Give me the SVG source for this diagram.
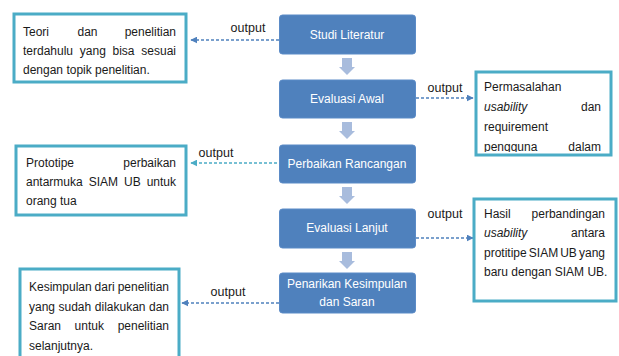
<svg xmlns="http://www.w3.org/2000/svg" width="619" height="356" viewBox="0 0 619 356">
<style>
.proc{fill:#4f81bd;stroke:#5b8bc7;stroke-width:1}
.pt{font-family:"Liberation Sans",Arial,sans-serif;font-size:12px;fill:#ffffff;text-anchor:middle}
.ob{fill:#ffffff;stroke:#4bacc6;stroke-width:3}
.t{font-family:"Liberation Sans",Arial,sans-serif;font-size:12px;fill:#1a1a1a}
.e{text-anchor:end}
.i{font-style:italic}
.lbl{font-family:"Liberation Sans",Arial,sans-serif;font-size:12.5px;fill:#1a1a1a;text-anchor:middle}
.dash{fill:none;stroke:#4f81bd;stroke-width:1.3;stroke-dasharray:3,2}
.dash2{fill:none;stroke:#4bacc6;stroke-width:1.3;stroke-dasharray:3,2}
.down{fill:#a8bcdd}
</style>
<defs>
<marker id="ah" viewBox="0 0 10 10" refX="9" refY="5" markerWidth="7" markerHeight="7" markerUnits="userSpaceOnUse" orient="auto"><path d="M0,0 L10,5 L0,10 z" fill="#4f81bd"/></marker>
<marker id="ah2" viewBox="0 0 10 10" refX="9" refY="5" markerWidth="7" markerHeight="7" markerUnits="userSpaceOnUse" orient="auto"><path d="M0,0 L10,5 L0,10 z" fill="#4bacc6"/></marker>
<clipPath id="c1"><rect x="476" y="72" width="134" height="80"/></clipPath>
</defs>

<g id="connectors">
<path class="down" d="M342,58 H352 V67 H355 L347,75 L339,67 H342 Z"/>
<path class="down" d="M342,122 H352 V131 H355 L347,139 L339,131 H342 Z"/>
<path class="down" d="M342,187 H352 V196 H355 L347,204 L339,196 H342 Z"/>
<path class="down" d="M342,252 H352 V261 H355 L347,269 L339,261 H342 Z"/>
<line class="dash" x1="279" y1="40" x2="191" y2="40" marker-end="url(#ah)"/>
<line class="dash" x1="416" y1="98" x2="473" y2="98" marker-end="url(#ah)"/>
<line class="dash2" x1="292" y1="163" x2="191" y2="163" marker-end="url(#ah2)"/>
<line class="dash" x1="416" y1="238" x2="473" y2="238" marker-end="url(#ah)"/>
<line class="dash" x1="279" y1="303" x2="182" y2="303" marker-end="url(#ah)"/>
<text class="lbl" x="248" y="32">output</text>
<text class="lbl" x="445" y="92">output</text>
<text class="lbl" x="216" y="157">output</text>
<text class="lbl" x="445" y="218">output</text>
<text class="lbl" x="228" y="296">output</text>
</g>

<g id="n-studi">
<rect class="proc" x="279.5" y="15" width="136" height="39" rx="3"/>
<text class="pt" x="347" y="38.5">Studi Literatur</text>
</g>
<g id="n-awal">
<rect class="proc" x="279.5" y="80" width="136" height="38" rx="3"/>
<text class="pt" x="347" y="103">Evaluasi Awal</text>
</g>
<g id="n-perbaikan">
<rect class="proc" x="279.5" y="145" width="136" height="38" rx="3"/>
<text class="pt" x="347" y="168">Perbaikan Rancangan</text>
</g>
<g id="n-lanjut">
<rect class="proc" x="279.5" y="209" width="136" height="39" rx="3"/>
<text class="pt" x="347" y="232">Evaluasi Lanjut</text>
</g>
<g id="n-penarikan">
<rect class="proc" x="279.5" y="273" width="136" height="40" rx="3"/>
<text class="pt" x="347" y="288">Penarikan Kesimpulan</text>
<text class="pt" x="347" y="306">dan Saran</text>
</g>

<g id="o-teori">
<rect class="ob" x="14" y="14" width="172" height="68"/>
<text class="t" x="23" y="36">Teori</text>
<text class="t" x="77.5" y="36">dan</text>
<text class="t e" x="176" y="36">penelitian</text>
<text class="t" x="23" y="55">terdahulu</text>
<text class="t" x="79.8" y="55">yang</text>
<text class="t" x="112.5" y="55">bisa</text>
<text class="t e" x="176" y="55">sesuai</text>
<text class="t" x="23" y="74">dengan topik penelitian.</text>
</g>

<g id="o-permasalahan">
<rect class="ob" x="476" y="72" width="135" height="83"/>
<g clip-path="url(#c1)">
<text class="t" x="484" y="91">Permasalahan</text>
<text class="t i" x="484" y="111">usability</text>
<text class="t e" x="601" y="111">dan</text>
<text class="t" x="484" y="131">requirement</text>
<text class="t" x="484" y="150.5">pengguna</text>
<text class="t e" x="601" y="150.5">dalam</text>
</g>
</g>

<g id="o-prototipe">
<rect class="ob" x="16" y="146" width="170" height="69"/>
<text class="t" x="26" y="167">Prototipe</text>
<text class="t e" x="176" y="167">perbaikan</text>
<text class="t" x="26" y="186">antarmuka</text>
<text class="t" x="88.7" y="186">SIAM</text>
<text class="t" x="124" y="186">UB</text>
<text class="t e" x="176" y="186">untuk</text>
<text class="t" x="26" y="205">orang tua</text>
</g>

<g id="o-hasil">
<rect class="ob" x="474" y="199" width="142" height="102"/>
<text class="t" x="484" y="217.5">Hasil</text>
<text class="t e" x="605" y="217.5">perbandingan</text>
<text class="t i" x="484" y="237">usability</text>
<text class="t e" x="605" y="237">antara</text>
<text class="t" x="484" y="256.5">protitipe</text>
<text class="t" x="528.8" y="256.5">SIAM</text>
<text class="t" x="560.2" y="256.5">UB</text>
<text class="t e" x="605" y="256.5">yang</text>
<text class="t" x="484" y="276">baru dengan SIAM UB.</text>
</g>

<g id="o-kesimpulan">
<rect class="ob" x="20" y="269" width="159" height="100"/>
<text class="t" x="29" y="291">Kesimpulan</text>
<text class="t" x="94.6" y="291">dari</text>
<text class="t e" x="169" y="291">penelitian</text>
<text class="t" x="29" y="310.5">yang</text>
<text class="t" x="58.5" y="310.5">sudah</text>
<text class="t" x="94.8" y="310.5">dilakukan</text>
<text class="t e" x="169" y="310.5">dan</text>
<text class="t" x="29" y="330">Saran</text>
<text class="t" x="74.6" y="330">untuk</text>
<text class="t e" x="169" y="330">penelitian</text>
<text class="t" x="29" y="349.5">selanjutnya.</text>
</g>
</svg>
